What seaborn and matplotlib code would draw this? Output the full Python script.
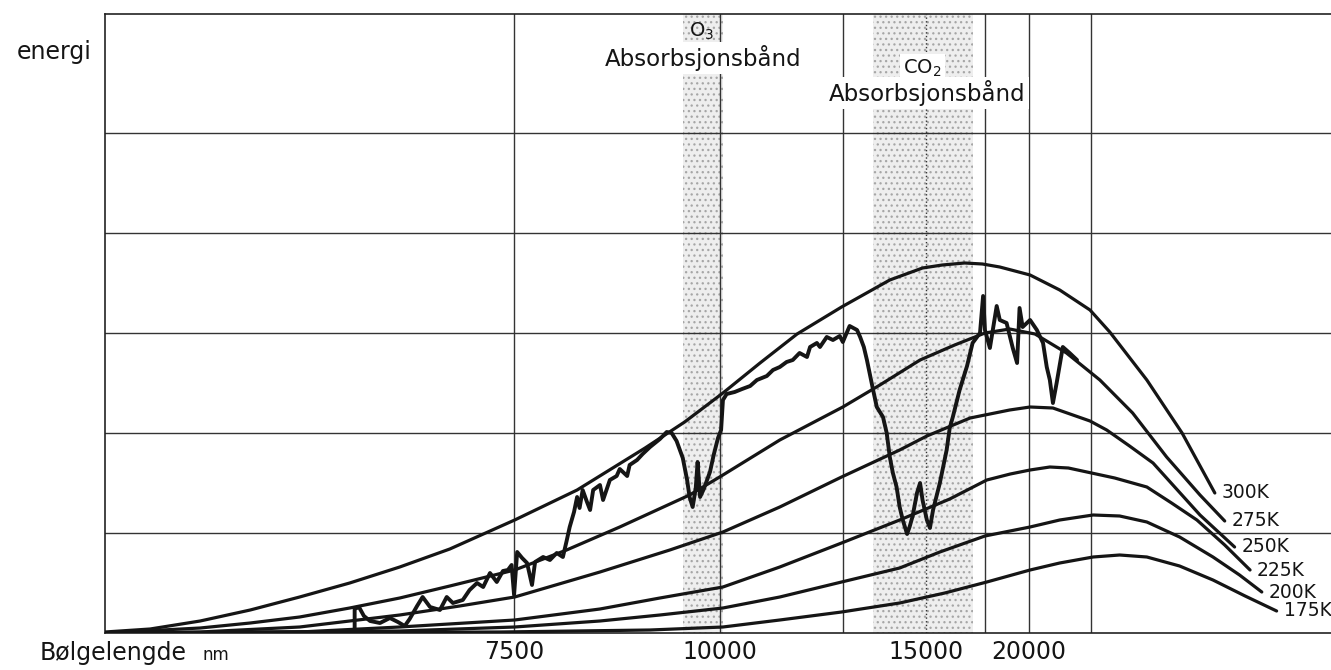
import numpy as np
import pandas as pd
import seaborn as sns
import matplotlib.pyplot as plt

# bølgetall (cm^-1) og energi (vilkårlige enheter), lest av figuren
nu_300 = [1995, 1922, 1841, 1760, 1680, 1599, 1518, 1437, 1332, 1231, 1121, 1057, 995, 935, 875, 803,
          725, 672, 640, 604, 575, 547, 498, 450, 401, 369, 309, 252, 199]
e_300 = [1, 4, 12, 23, 36, 50, 66, 84, 113, 143, 185, 211, 240, 270, 299, 326,
         353, 365, 368, 370, 369, 366, 358, 343, 323, 301, 253, 200, 140]

nu_275 = [1995, 1841, 1760, 1680, 1599, 1518, 1437, 1332, 1248, 1162, 1049, 995, 903, 801, 741, 676,
          620, 571, 531, 490, 439, 385, 332, 277, 223, 183]
e_275 = [0, 5, 10, 16, 25, 35, 47, 63, 83, 106, 138, 158, 193, 226, 248, 273,
         288, 300, 304, 299, 280, 253, 220, 176, 138, 112]

nu_250 = [1995, 1841, 1680, 1518, 1421, 1332, 1194, 1081, 995, 903, 803, 709, 665, 595,
          531, 498, 461, 401, 374, 337, 299, 261, 223, 167]
e_250 = [0, 1, 6, 18, 27, 36, 61, 83, 101, 126, 156, 183, 197, 215,
         223, 226, 225, 212, 203, 187, 170, 144, 118, 86]

nu_225 = [1995, 1680, 1518, 1332, 1194, 1097, 995, 903, 803, 709, 628, 568, 530, 498, 466,
          436, 406, 361, 309, 269, 228, 183, 142]
e_225 = [0, 1, 6, 13, 24, 35, 46, 66, 90, 113, 134, 153, 159, 163, 166,
         165, 161, 155, 146, 130, 113, 88, 63]

nu_200 = [1995, 1518, 1332, 1194, 1097, 995, 903, 803, 709, 644, 571, 498, 450, 396,
          353, 309, 256, 202, 159, 123]
e_200 = [0, 2, 6, 12, 18, 25, 36, 51, 65, 81, 97, 106, 113, 118,
         117, 111, 96, 76, 58, 41]

nu_175 = [1995, 1356, 1113, 995, 903, 803, 709, 636, 568, 498, 450, 396, 353, 309,
          256, 202, 150, 99]
e_175 = [0, 1, 3, 6, 13, 21, 30, 40, 51, 63, 70, 76, 78, 76,
         67, 53, 37, 22]

temp_labels = ['300K', '275K', '250K', '225K', '200K', '175K']

# målt utstråling
spec_nu = [1591, 1591, 1584, 1576, 1566, 1550, 1534, 1521, 1510, 1502, 1490, 1481, 1469, 1453, 1442,
           1432, 1416, 1405, 1393, 1383, 1372, 1361, 1351, 1343, 1337, 1333, 1328, 1320, 1312, 1304,
           1299, 1286, 1275, 1264, 1254, 1248, 1243, 1236, 1231, 1227, 1222, 1215, 1210, 1205, 1194,
           1189, 1178, 1167, 1162, 1150, 1146, 1134, 1125, 1113, 1097, 1086, 1078, 1070, 1060, 1053,
           1049, 1044, 1039, 1036, 1032, 1026, 1016, 1010, 1003, 998, 995, 989, 976, 964, 951,
           940, 924, 914, 903, 892, 882, 871, 859, 854, 843, 838, 827, 817, 806, 801,
           790, 778, 773, 767, 762, 757, 752, 746, 736, 730, 725, 720, 714, 709, 704,
           697, 693, 688, 681, 676, 672, 665, 660, 655, 644, 633, 628, 623, 612, 600,
           591, 579, 574, 571, 563, 552, 547, 536, 526, 519, 515, 510, 498, 487, 477,
           471, 466, 461, 455, 445, 434, 422]
spec_e = [1, 24, 26, 17, 12, 10, 15, 11, 7, 14, 27, 36, 26, 23, 36,
          30, 33, 43, 50, 46, 60, 51, 62, 63, 68, 38, 81, 75, 70, 48,
          71, 76, 73, 80, 76, 92, 106, 121, 136, 125, 143, 131, 123, 143, 148,
          133, 153, 157, 164, 157, 168, 173, 179, 186, 194, 201, 200, 192, 175, 153,
          136, 126, 145, 171, 136, 144, 161, 178, 195, 203, 233, 239, 241, 244, 247,
          253, 257, 263, 266, 271, 273, 280, 276, 286, 290, 286, 296, 293, 297, 291,
          307, 303, 296, 286, 273, 258, 243, 226, 216, 200, 176, 160, 146, 126, 113,
          99, 106, 117, 140, 150, 133, 113, 105, 123, 150, 183, 205, 216, 243, 267,
          290, 300, 337, 303, 285, 327, 313, 310, 285, 270, 325, 306, 313, 303, 290,
          266, 253, 230, 250, 286, 280, 273]

# absorpsjonsbånd (cm^-1)
o3_band = (1060, 995)
co2_band = (752, 591)

grid_nm = [7500, 10000, 12500, 15000, 17500, 20000, 25000]
tick_nm = [7500, 10000, 15000, 20000]
grid_e = [100, 200, 300, 400, 500]

curves = [(nu_300, e_300), (nu_275, e_275), (nu_250, e_250),
          (nu_225, e_225), (nu_200, e_200), (nu_175, e_175)]
rows = []
for lab, (nu, e) in zip(temp_labels, curves):
    for a, b in zip(nu, e):
        rows.append((lab, a, b))
planck = pd.DataFrame(rows, columns=['T', 'nu', 'energi'])
spec = pd.DataFrame({'nu': spec_nu, 'energi': spec_e})

sns.set_style('white')
plt.rcParams['font.family'] = ['DejaVu Sans']
plt.rcParams['hatch.linewidth'] = 0.9

ink = '#151515'
fig = plt.figure(figsize=(13.31, 6.70), dpi=100)
ax = fig.add_axes([105 / 1331, 37 / 670, 1226 / 1331, 619 / 670])

for lo, hi in (o3_band, co2_band):
    ax.axvspan(lo, hi, facecolor='#eeeeee', edgecolor='#a6a6a6', hatch='...', linewidth=0, zorder=0)

for nm in grid_nm:
    ls = ':' if nm == 15000 else '-'
    ax.axvline(1e7 / nm, color='#333333', lw=1.0, ls=ls, zorder=1)
for e in grid_e:
    ax.axhline(e, color='#333333', lw=1.0, zorder=1)

sns.lineplot(data=planck, x='nu', y='energi', units='T', estimator=None, sort=False,
             color=ink, linewidth=2.3, legend=False, ax=ax, zorder=3,
             solid_capstyle='round', solid_joinstyle='round')
sns.lineplot(data=spec, x='nu', y='energi', estimator=None, sort=False,
             color=ink, linewidth=2.8, ax=ax, zorder=3, solid_joinstyle='round')

for lab, (nu, e) in zip(temp_labels, curves):
    ax.annotate(lab, xy=(nu[-1], e[-1]), xytext=(7, 0), textcoords='offset pixels',
                ha='left', va='center', fontsize=13.5, color=ink)

box = dict(boxstyle='square,pad=0.15', fc='white', ec='none')
ax.text(1030, 602, r'O$_3$', ha='center', va='center', fontsize=14, color=ink, zorder=4)
ax.text(1027, 575, 'Absorbsjonsbånd', ha='center', va='center', fontsize=16.5, color=ink,
        bbox=box, zorder=4)
ax.text(672, 565, r'CO$_2$', ha='center', va='center', fontsize=14, color=ink,
        bbox=box, zorder=4)
ax.text(665, 540, 'Absorbsjonsbånd', ha='center', va='center', fontsize=16.5, color=ink,
        bbox=box, zorder=4)

ax.set_xlim(1995, 11)
ax.set_ylim(0, 619)
ax.set_xticks([1e7 / nm for nm in tick_nm])
ax.set_xticklabels([str(nm) for nm in tick_nm])
ax.set_yticks([])
ax.set_xlabel('')
ax.set_ylabel('')
ax.tick_params(axis='x', length=0, pad=5, labelsize=17, labelcolor=ink)
for side in ('left', 'top', 'bottom'):
    ax.spines[side].set_color('#222222')
    ax.spines[side].set_linewidth(1.2)
ax.spines['right'].set_visible(False)

fig.text(92 / 1331, 1 - 52 / 670, 'energi', ha='right', va='center', fontsize=17, color=ink)
fig.text(40 / 1331, 10 / 670, 'Bølgelengde', ha='left', va='baseline', fontsize=17, color=ink)
fig.text(203 / 1331, 10 / 670, 'nm', ha='left', va='baseline', fontsize=12, color=ink)

fig.savefig('out.png', dpi=100, facecolor='white')
